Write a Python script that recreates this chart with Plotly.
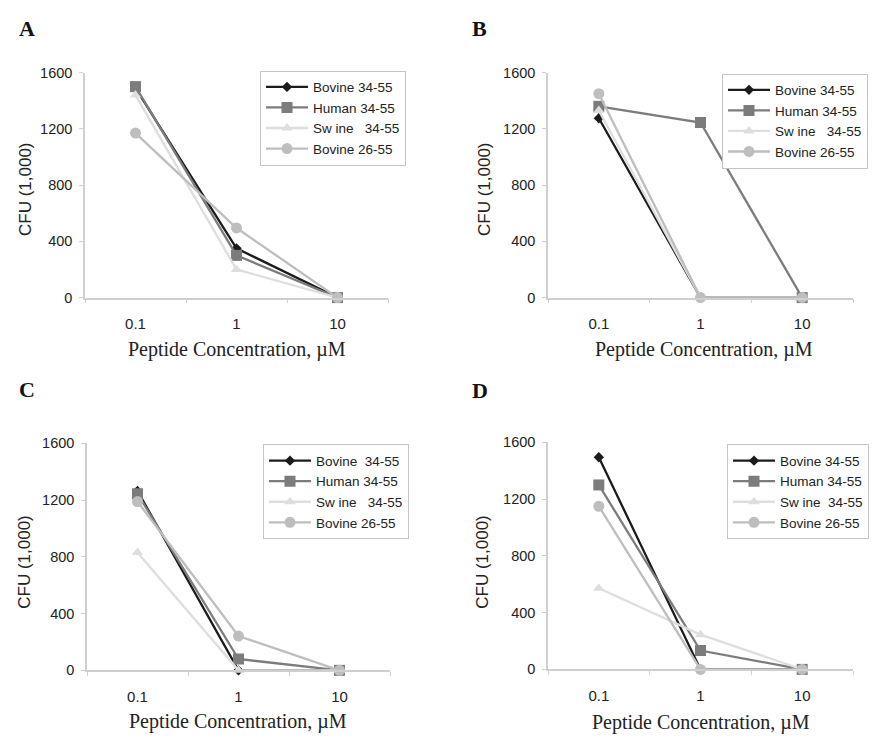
import plotly.graph_objects as go

conc = ["0.1", "1", "10"]
series_names = ["Bovine 34-55", "Human 34-55", "Swine 34-55", "Bovine 26-55"]
legend_labels = {
    "A": ["Bovine 34-55", "Human 34-55", "Sw ine\u00a0\u00a0 34-55", "Bovine 26-55"],
    "B": ["Bovine 34-55", "Human 34-55", "Sw ine\u00a0\u00a0 34-55", "Bovine 26-55"],
    "C": ["Bovine\u00a0 34-55", "Human 34-55", "Sw ine\u00a0\u00a0 34-55", "Bovine 26-55"],
    "D": ["Bovine 34-55", "Human 34-55", "Sw ine\u00a0 34-55", "Bovine 26-55"],
}

A_bovine34 = [1490, 350, 0]
A_human34 = [1500, 300, 0]
A_swine34 = [1440, 200, 0]
A_bovine26 = [1170, 495, 0]

B_bovine34 = [1275, 0, 0]
B_human34 = [1360, 1245, 0]
B_swine34 = [1330, 0, 0]
B_bovine26 = [1450, 0, 0]

C_bovine34 = [1265, 0, 0]
C_human34 = [1245, 80, 0]
C_swine34 = [830, 0, 0]
C_bovine26 = [1190, 242, 0]

D_bovine34 = [1495, 0, 0]
D_human34 = [1300, 133, 0]
D_swine34 = [572, 245, 0]
D_bovine26 = [1150, 0, 0]

panels = {
    "A": [A_bovine34, A_human34, A_swine34, A_bovine26],
    "B": [B_bovine34, B_human34, B_swine34, B_bovine26],
    "C": [C_bovine34, C_human34, C_swine34, C_bovine26],
    "D": [D_bovine34, D_human34, D_swine34, D_bovine26],
}

colors = ["#1c1c1c", "#7c7c7c", "#dedede", "#bebebe"]
symbols = ["diamond", "square", "triangle-up", "circle"]
msizes = [8, 11, 10, 11]

W, H = 882, 740

def fx(px):
    return px / W

def fy(py):
    return 1 - py / H

# panel geometry in pixels: (x0, x1, ytop(1600), ybottom(0))
geom = {
    "A": (85, 388, 66, 296),
    "B": (548, 853, 66, 296),
    "C": (87, 390, 445, 677),
    "D": (548, 853, 444, 676),
}
legend_pos = {
    "A": (260, 64),
    "B": (722, 67),
    "C": (263, 446),
    "D": (727, 446),
}
letter_pos = {"A": (27, 21), "B": (479, 21), "C": (27, 390), "D": (480, 391)}
ytitle_pos = {"A": (25, 185), "B": (484, 185), "C": (25, 566), "D": (483, 566)}
xtitle_pos = {"A": (237, 349), "B": (704, 349), "C": (238, 729), "D": (701, 730)}

fig = go.Figure()
layout = dict(
    width=W, height=H,
    margin=dict(l=0, r=0, t=0, b=0),
    paper_bgcolor="white", plot_bgcolor="white",
    showlegend=True,
    font=dict(family="Arial, Liberation Sans, sans-serif", color="#222222"),
)
annotations = []

for i, key in enumerate(["A", "B", "C", "D"]):
    n = i + 1
    xa = "x" if n == 1 else f"x{n}"
    ya = "y" if n == 1 else f"y{n}"
    lg = "legend" if n == 1 else f"legend{n}"
    x0, x1, yt, yb = geom[key]
    for s in range(4):
        fig.add_trace(go.Scatter(
            x=conc, y=panels[key][s], mode="lines+markers",
            name=legend_labels[key][s], legend=lg,
            xaxis=xa, yaxis=ya, cliponaxis=False,
            line=dict(color=colors[s], width=2.3),
            marker=dict(symbol=symbols[s], size=msizes[s], color=colors[s]),
        ))
    xkey = "xaxis" if n == 1 else f"xaxis{n}"
    ykey = "yaxis" if n == 1 else f"yaxis{n}"
    layout[xkey] = dict(
        domain=[fx(x0), fx(x1)], anchor=ya, type="category",
        range=[-0.5, 2.5], showgrid=False, zeroline=False,
        showline=True, linecolor="#cfcfcf", linewidth=1.5,
        ticks="outside", tickson="boundaries", ticklen=4, tickcolor="#cfcfcf",
        ticklabelstandoff=12,
        tickfont=dict(size=15, color="#222222"),
    )
    layout[ykey] = dict(
        domain=[fy(yb), fy(yt)], anchor=xa, range=[0, 1600],
        tickvals=[0, 400, 800, 1200, 1600], showgrid=False, zeroline=False,
        showline=True, linecolor="#cfcfcf", linewidth=1.5,
        ticks="outside", ticklen=4, tickcolor="#cfcfcf",
        ticklabelstandoff=4,
        tickfont=dict(size=14.5, color="#222222"),
    )
    lx, ly = legend_pos[key]
    layout[lg] = dict(
        x=fx(lx), y=fy(ly), xanchor="left", yanchor="top",
        bordercolor="#c4c4c4", borderwidth=1, bgcolor="white",
        font=dict(size=13.5, color="#222222"), itemwidth=42,
        tracegroupgap=0,
    )
    px_, py_ = letter_pos[key]
    annotations.append(dict(
        text=f"<b>{key}</b>", x=fx(px_), y=fy(py_), xref="paper", yref="paper",
        showarrow=False, xanchor="center", yanchor="middle",
        font=dict(family="Liberation Serif, Times New Roman, serif", size=22, color="#111111"),
    ))
    tx, ty = ytitle_pos[key]
    annotations.append(dict(
        text="CFU (1,000)", x=fx(tx), y=fy(ty), xref="paper", yref="paper",
        showarrow=False, xanchor="center", yanchor="middle", textangle=-90,
        font=dict(size=17, color="#222222"),
    ))
    tx, ty = xtitle_pos[key]
    annotations.append(dict(
        text="Peptide Concentration, \u00b5M", x=fx(tx), y=fy(ty), xref="paper", yref="paper",
        showarrow=False, xanchor="center", yanchor="middle",
        font=dict(family="Liberation Serif, Times New Roman, serif", size=20, color="#222222"),
    ))

layout["annotations"] = annotations
fig.update_layout(**layout)
fig.write_html("out.html", config={"displayModeBar": False},
               post_script="document.body.style.margin='0';")
